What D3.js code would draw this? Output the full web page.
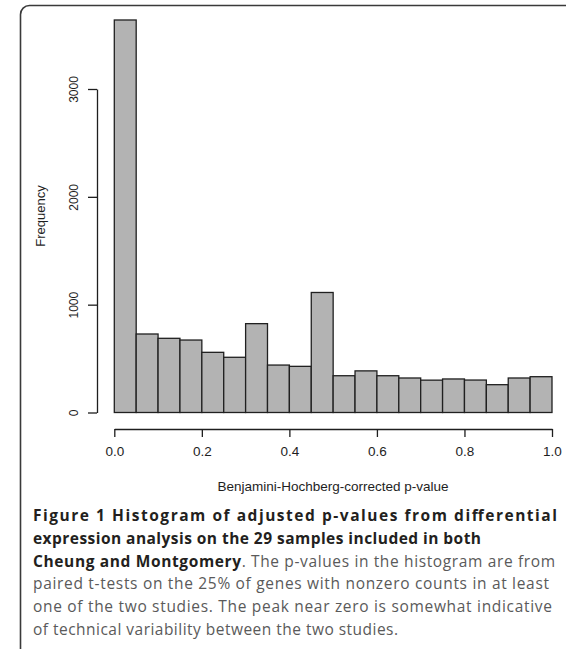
<!DOCTYPE html>
<html>
<head>
<meta charset="utf-8">
<script src="https://cdn.jsdelivr.net/npm/d3@7"></script>
<style>
  html, body { margin: 0; padding: 0; background: #fff; }
  svg { display: block; }
</style>
</head>
<body>
<svg id="fig" width="566" height="649"></svg>
<script>
// Histogram bins of Benjamini-Hochberg adjusted p-values (bin width 0.05)
const binStarts = [0.00, 0.05, 0.10, 0.15, 0.20, 0.25, 0.30, 0.35, 0.40, 0.45,
                   0.50, 0.55, 0.60, 0.65, 0.70, 0.75, 0.80, 0.85, 0.90, 0.95];
const binEnds   = [0.05, 0.10, 0.15, 0.20, 0.25, 0.30, 0.35, 0.40, 0.45, 0.50,
                   0.55, 0.60, 0.65, 0.70, 0.75, 0.80, 0.85, 0.90, 0.95, 1.00];
const counts    = [3640, 728, 688, 672, 558, 512, 824, 440, 428, 1113,
                   341, 386, 341, 320, 300, 311, 301, 258, 320, 332];
const xTicks = [0, 0.2, 0.4, 0.6, 0.8, 1.0];
const xTickLabels = ["0.0", "0.2", "0.4", "0.6", "0.8", "1.0"];
const yTicks = [0, 1000, 2000, 3000];
const yTickLabels = ["0", "1000", "2000", "3000"];
const xTitle = "Benjamini-Hochberg-corrected p-value";
const yTitle = "Frequency";

// Caption lines: each is a list of [text, bold] runs
const captionLines = [
  [["Figure 1 Histogram of adjusted p-values from differential", true]],
  [["expression analysis on the 29 samples included in both", true]],
  [["Cheung and Montgomery", true], [". The p-values in the histogram are from", false]],
  [["paired t-tests on the 25% of genes with nonzero counts in at least", false]],
  [["one of the two studies. The peak near zero is somewhat indicative", false]],
  [["of technical variability between the two studies.", false]]
];
const captionWidths = [524, 448, 522, 516, 519, 365];

const svg = d3.select("#fig");

// Rounded panel frame (top and left edges visible)
svg.append("rect")
  .attr("x", 20.5).attr("y", 5.5)
  .attr("width", 620).attr("height", 652)
  .attr("rx", 9).attr("ry", 9)
  .attr("fill", "none")
  .attr("stroke", "#3a3a3a")
  .attr("stroke-width", 1.6);

const x = d3.scaleLinear().domain([0, 1]).range([114.3, 552]);
const y = d3.scaleLinear().domain([0, 3000]).range([412.5, 89]);

const ink = "#1e1e1e";
const axisFont = "'Liberation Sans', Arial, Helvetica, sans-serif";

// Bars
svg.append("g").selectAll("rect")
  .data(counts)
  .join("rect")
  .attr("x", (d, i) => x(binStarts[i]))
  .attr("y", d => y(d))
  .attr("width", (d, i) => x(binEnds[i]) - x(binStarts[i]))
  .attr("height", d => y(0) - y(d))
  .attr("fill", "#b3b3b3")
  .attr("stroke", "#202020")
  .attr("stroke-width", 1.3);

// X axis (below the bars, R style)
const xAxis = d3.axisBottom(x)
  .tickValues(xTicks)
  .tickFormat((d, i) => xTickLabels[i])
  .tickSizeInner(8).tickSizeOuter(0).tickPadding(9);
const gx = svg.append("g").attr("transform", "translate(0,429)").call(xAxis);
gx.select(".domain").attr("stroke", ink).attr("stroke-width", 1.3);
gx.selectAll(".tick line").attr("stroke", ink).attr("stroke-width", 1.3);
gx.selectAll(".tick text")
  .attr("fill", ink)
  .style("font-family", axisFont)
  .style("font-size", "13.5px");

// Y axis (left of the bars, rotated labels)
const yAxis = d3.axisLeft(y)
  .tickValues(yTicks)
  .tickFormat((d, i) => yTickLabels[i])
  .tickSizeInner(9).tickSizeOuter(0).tickPadding(0);
const gy = svg.append("g").attr("transform", "translate(97,0)").call(yAxis);
gy.select(".domain").attr("stroke", ink).attr("stroke-width", 1.3);
gy.selectAll(".tick line").attr("stroke", ink).attr("stroke-width", 1.3);
gy.selectAll(".tick text")
  .attr("x", null).attr("dy", null)
  .attr("transform", "translate(-19,0) rotate(-90)")
  .attr("text-anchor", "middle")
  .attr("fill", ink)
  .style("font-family", axisFont)
  .style("font-size", "12px");

// Axis titles
svg.append("text")
  .attr("x", 333).attr("y", 491)
  .attr("text-anchor", "middle")
  .attr("fill", ink)
  .style("font-family", axisFont)
  .style("font-size", "13.5px")
  .text(xTitle);

svg.append("text")
  .attr("transform", "translate(45,216) rotate(-90)")
  .attr("text-anchor", "middle")
  .attr("fill", ink)
  .style("font-family", axisFont)
  .style("font-size", "13px")
  .text(yTitle);

// Caption
const capFont = "'Open Sans', 'Noto Sans', sans-serif";
const cap = svg.append("g");
captionLines.forEach((runs, li) => {
  const t = cap.append("text")
    .attr("x", 33)
    .attr("y", 521 + li * 22.8)
    .style("font-family", capFont)
    .style("font-size", "15.5px")
    .attr("textLength", captionWidths[li])
    .attr("lengthAdjust", "spacing");
  runs.forEach(([s, bold]) => {
    t.append("tspan")
      .attr("font-weight", bold ? 700 : 400)
      .attr("fill", bold ? "#231f20" : "#5a5a5a")
      .text(s);
  });
});
</script>
</body>
</html>
